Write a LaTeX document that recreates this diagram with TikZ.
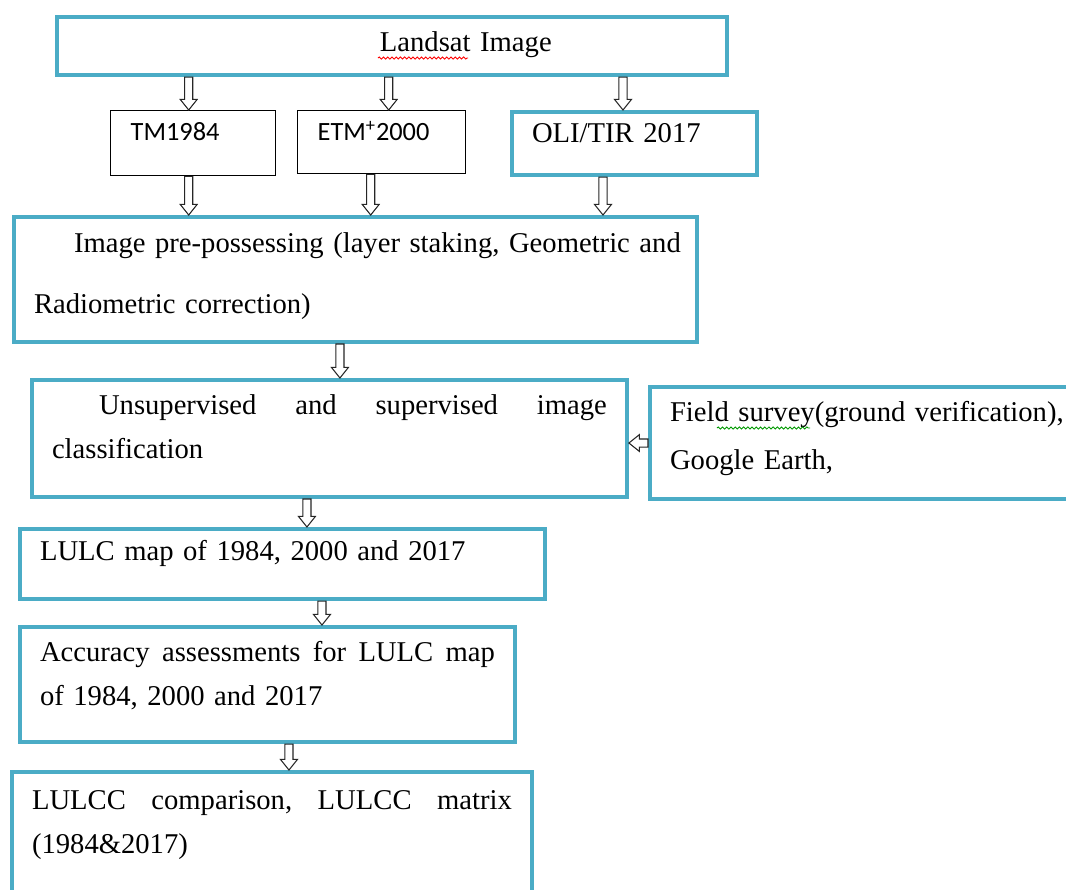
\documentclass[tikz,border=0pt]{standalone}
\usepackage{fontspec}
\setmainfont{Liberation Serif}
\newfontfamily\calibri{Carlito}
\usetikzlibrary{calc,decorations.pathmorphing}

\definecolor{boxblue}{RGB}{75,172,198}

\tikzset{
  tealbox/.style={draw=boxblue, line width=2.3pt, anchor=north west, align=left,
    inner xsep=0.4cm, inner ysep=0pt, text height=0.68cm,
    font=\fontsize{16.3}{25.5}\selectfont},
  thinbox/.style={draw=black, line width=0.8pt, anchor=north west, align=left,
    inner xsep=0.4cm, inner ysep=0pt, text height=0.6cm,
    font=\calibri\fontsize{15}{18}\selectfont},
  harrow/.style={draw=black!85, fill=white, line width=0.6pt,
    to path={(\tikztostart) coordinate (ha) (\tikztotarget) coordinate (hb)
      ($(ha)!2.3pt!90:(hb)$) -- ($(hb)!6pt!(ha)!2.3pt!-90:(ha)$)
      -- ($(hb)!6pt!(ha)!4.8pt!-90:(ha)$) -- (hb)
      -- ($(hb)!6pt!(ha)!4.8pt!90:(ha)$) -- ($(hb)!6pt!(ha)!2.3pt!90:(ha)$)
      -- ($(ha)!2.3pt!-90:(hb)$) -- cycle}},
  spellwave/.style={line width=0.5pt, decorate,
    decoration={snake, amplitude=0.6pt, segment length=2.4pt}}
}

\begin{document}
\begin{tikzpicture}[x=0.02cm, y=-0.02cm]
            \useasboundingbox (0,0) rectangle (1066,890);

            \node[tealbox, text width=12.6cm, text depth=0.48cm] (land) at (55,15) {\hspace*{6.06cm}Landsat Image};

            \node[thinbox, text width=2.5cm, text depth=0.7cm] (tm) at (110,110) {TM1984};
            \node[thinbox, text width=2.56cm, text depth=0.66cm] (etm) at (297,110) {ETM\textsuperscript{+}2000};
            \node[tealbox, text width=4.1cm, text height=0.6cm, text depth=0.66cm] (oli) at (510,110) {OLI/TIR 2017};

            \node[tealbox, text width=12.86cm, text height=0.7cm, text depth=1.8cm] (pre) at (12,215)
                {\mbox{\hspace*{0.8cm}Image pre-possessing (layer staking, Geometric and}\\[0.34cm] Radiometric correction)};

            \node[tealbox, text width=11.1cm, text depth=1.66cm] (uns) at (30,378)
                {\hspace*{0.94cm}Unsupervised\hfill and\hfill supervised\hfill image\\ classification};
            \node[tealbox, text width=8.2cm, text depth=1.56cm] (field) at (648,385)
                {\mbox{Field survey(ground verification),}\\[0.08cm] Google Earth,};

            \node[tealbox, text width=9.7cm, text height=0.62cm, text depth=0.78cm] (lulc) at (18,527) {LULC map of 1984, 2000 and 2017};
            \node[tealbox, text width=9.1cm, text depth=1.62cm] (acc) at (18,625)
                {Accuracy\hfill assessments\hfill for\hfill LULC\hfill map\\ of 1984, 2000 and 2017};
            \node[tealbox, text width=9.6cm, text height=0.74cm, text depth=1.96cm] (lulcc) at (10,770)
                {LULCC\hfill comparison,\hfill LULCC\hfill matrix\\ (1984\&2017)};

            % spell-check marks
            \draw[spellwave, red] (378,58) -- (468,58);
            \draw[spellwave, green!60!black] (717,428) -- (810,428);

            \draw[harrow] ($(tm.north |- land.south)+(-4.5,0)$) to ($(tm.north)+(-4.5,0)$);
            \draw[harrow] ($(etm.north |- land.south)+(7,0)$) to ($(etm.north)+(7,0)$);
            \draw[harrow] ($(oli.north |- land.south)+(-11.5,0)$) to ($(oli.north)+(-11.5,0)$);

            \draw[harrow] ($(tm.south)+(-4.5,0)$) to ($(tm.south |- pre.north)+(-4.5,0)$);
            \draw[harrow] ($(etm.south)+(-11,0)$) to ($(etm.south |- pre.north)+(-11,0)$);
            \draw[harrow] ($(oli.south)+(-31.5,0)$) to ($(oli.south |- pre.north)+(-31.5,0)$);

            \draw[harrow] ($(pre.south)+(-15.5,0)$) to ($(pre.south |- uns.north)+(-15.5,0)$);
            \draw[harrow] (field.west) to (field.west -| uns.east);
            \draw[harrow] ($(uns.south)+(-22.5,0)$) to ($(uns.south |- lulc.north)+(-22.5,0)$);
            \draw[harrow] ($(lulc.south)+(39.5,0)$) to ($(lulc.south |- acc.north)+(39.5,0)$);
            \draw[harrow] ($(acc.south)+(21.5,0)$) to ($(acc.south |- lulcc.north)+(21.5,0)$);
        \end{tikzpicture}
\end{document}
